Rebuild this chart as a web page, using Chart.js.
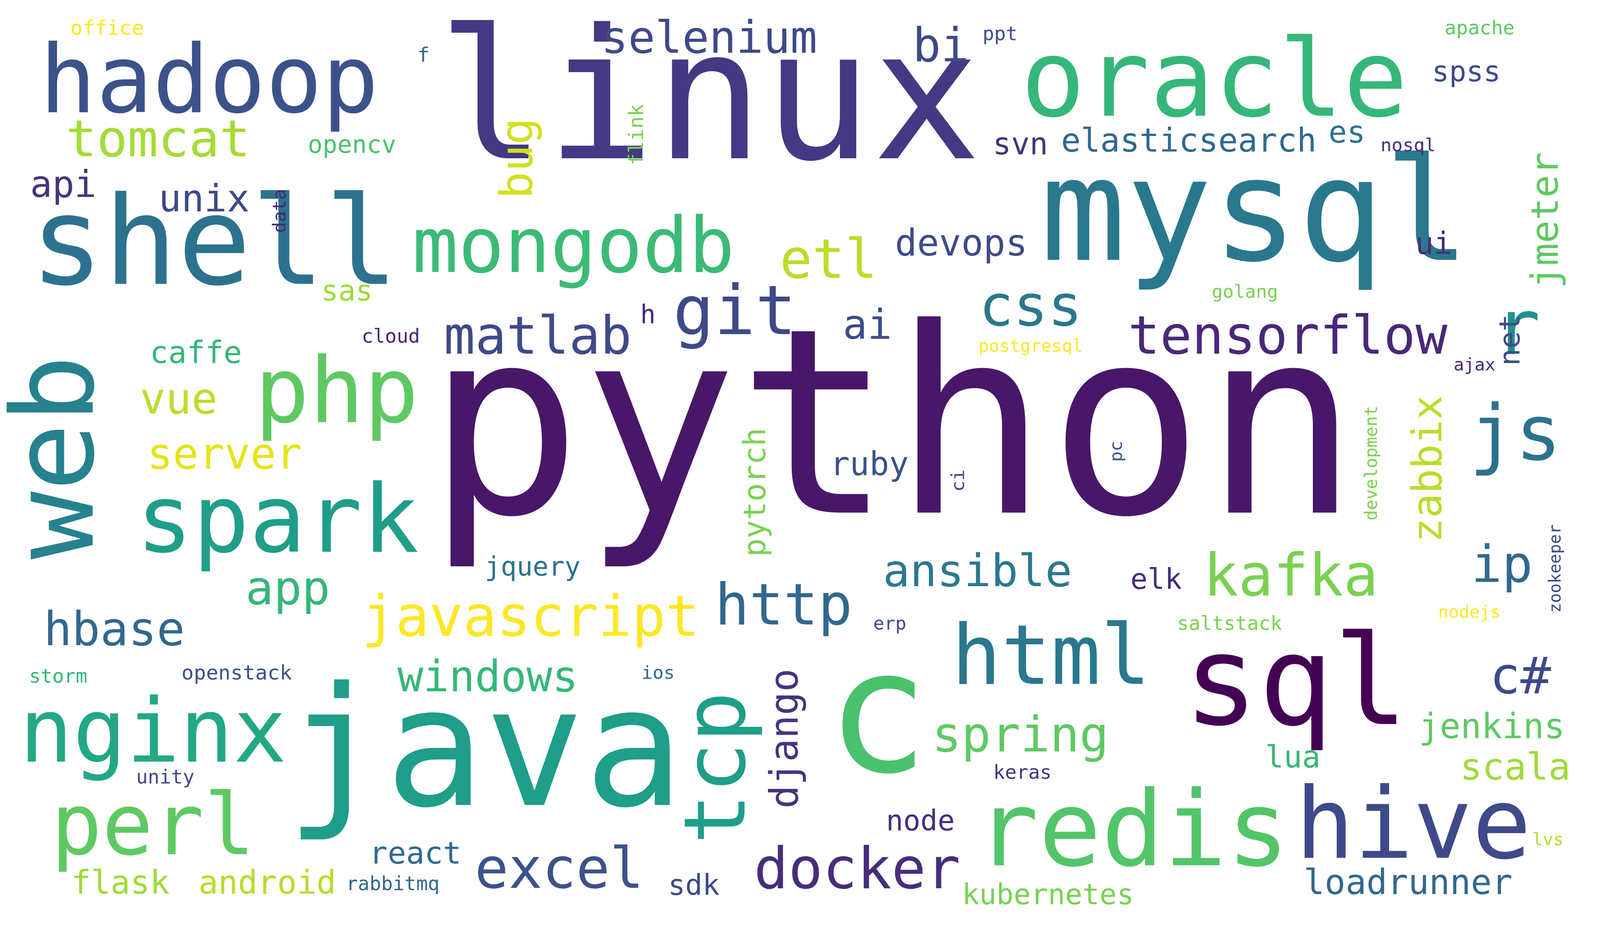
<!DOCTYPE html>
<html>
<head>
<meta charset="utf-8">
<script src="https://cdn.jsdelivr.net/npm/chart.js@4/dist/chart.umd.min.js"></script>
<style>
  html, body { margin: 0; padding: 0; background: #fff; overflow: hidden; }
  #wrap { width: 100vw; height: 100vh; }
</style>
</head>
<body>
<div id="wrap"><canvas id="cloud"></canvas></div>
<script>
// Mots du nuage (centre x, centre y dans un repère 1568 x 795, taille relative)
const words = ['python','linux','java','c','mysql','sql','shell','web','hadoop','oracle',
  'redis','php','spark','mongodb','nginx','perl','html','hive','tcp','js',
  'r','docker','excel','kafka','javascript','http','css','git','ansible','tensorflow',
  'matlab','etl','bug','selenium','bi','tomcat','unix','api','opencv','svn',
  'elasticsearch','es','nosql','spss','apache','ppt','office','f','flink','data',
  'devops','jmeter','ui','sas','golang','cloud','postgresql','net','h','ai',
  'caffe','vue','server','ajax','development','zabbix','ruby','pytorch','pc','ci',
  'zookeeper','ip','app','jquery','elk','hbase','erp','saltstack','nodejs','c#',
  'windows','django','spring','storm','openstack','ios','jenkins','scala','lua','keras',
  'unity','node','react','lvs','flask','android','rabbitmq','sdk','kubernetes','loadrunner'];
const xs = [875,695,475,860,1230,1270,210,62,205,1190,
  1110,330,272,562,150,150,1030,1385,708,1485,
  1487,840,548,1265,520,768,1010,720,958,1262,
  527,812,510,695,922,155,200,62,345,1000,
  1165,1320,1380,1437,1450,980,105,415,625,275,
  942,1517,1405,340,1220,383,1010,1482,635,850,
  192,175,220,1445,1345,1402,852,742,1095,940,
  1525,1472,282,522,1133,112,872,1205,1440,1490,
  478,772,1000,57,232,645,1462,1485,1267,1002,
  162,902,407,1517,118,262,385,680,1027,1380];
const ys = [380,95,650,620,190,590,215,390,75,75,
  715,340,450,215,630,710,565,710,655,375,
  285,745,745,495,530,520,265,270,490,290,
  290,225,135,35,42,122,172,160,125,125,
  122,115,125,63,25,30,25,48,115,180,
  210,188,210,250,250,288,296,290,270,280,
  303,343,390,312,395,400,398,420,385,410,
  485,485,505,485,496,540,533,533,523,580,
  580,630,630,578,575,575,622,657,648,660,
  664,702,730,717,755,755,755,757,765,755];
const sizes = [253,177,162,167,140,122,120,111,92,105,
  102,89,92,75,87,83,81,96,83,75,
  75,56,55,57,55,56,56,67,44,52,
  51,53,44,44,46,50,37,36,24,30,
  32,30,18,28,19,19,20,20,20,18,
  36,37,30,28,18,19,17,28,25,40,
  30,42,42,17,17,40,32,30,17,18,
  16,50,46,26,28,46,18,19,17,50,
  42,38,48,19,20,18,34,36,30,19,
  19,28,30,17,32,32,19,28,28,34];
const vertical = ['web','tcp','bug','flink','data','jmeter','net','development','zabbix',
  'pytorch','pc','ci','zookeeper','django'];
const colors = ['#481769','#443983','#1f9e89','#4ac16d','#2a788e','#440154','#2c728e','#26828e','#3b528b','#35b779',
  '#52c569','#5ec962','#1f9e89','#3bbb75','#22a884','#5ec962','#2a788e','#3e4a89','#1f9e89','#2c728e',
  '#21918c','#472d7b','#3b528b','#7ad151','#fde725','#31688e','#2a788e','#3e4989','#2a788e','#482878',
  '#3e4a89','#b8de29','#d0e11c','#3e4989','#3e4a89','#a5db36','#3e4989','#46337e','#4ac16d','#46337e',
  '#31688e','#2c728e','#472d7b','#3e4989','#5ec962','#3b528b','#fde725','#31688e','#7ad151','#482878',
  '#3e4a89','#5ec962','#472d7b','#a0da39','#7ad151','#482878','#fde725','#3e4989','#482878','#3e4a89',
  '#35b779','#b8de29','#e5e419','#482878','#7ad151','#b8de29','#3b528b','#7ad151','#3b528b','#3e4989',
  '#3e4989','#31688e','#35b779','#2c728e','#472d7b','#31688e','#3e4989','#7ad151','#fde725','#3e4989',
  '#35b779','#46337e','#5ec962','#35b779','#3b528b','#31688e','#5ec962','#a0da39','#35b779','#46337e',
  '#3e4989','#472d7b','#31688e','#b5de2b','#a0da39','#b5de2b','#31688e','#3e4989','#7ad151','#31688e'];

// Plugin pour dessiner les mots aux positions des points
const wordPlugin = {
  id: 'words',
  afterDatasetsDraw(chart) {
    const ctx = chart.ctx;
    const xScale = chart.scales.x;
    const yScale = chart.scales.y;
    const unit = (xScale.getPixelForValue(1568) - xScale.getPixelForValue(0)) / 1568;
    ctx.save();
    ctx.textAlign = 'center';
    ctx.textBaseline = 'middle';
    words.forEach(function(w, i) {
      const px = xScale.getPixelForValue(xs[i]);
      const py = yScale.getPixelForValue(ys[i]);
      ctx.save();
      ctx.translate(px, py);
      if (vertical.indexOf(w) > -1) ctx.rotate(-Math.PI / 2);
      ctx.font = (sizes[i] * unit) + 'px "DejaVu Sans Mono"';
      ctx.fillStyle = colors[i];
      ctx.fillText(w, 0, 0);
      ctx.restore();
    });
    ctx.restore();
  }
};

new Chart(document.getElementById('cloud'), {
  type: 'scatter',
  data: {
    datasets: [{
      data: words.map(function(w, i) { return { x: xs[i], y: ys[i] }; }),
      pointRadius: 0
    }]
  },
  options: {
    responsive: true,
    maintainAspectRatio: false,
    animation: false,
    layout: { padding: 0 },
    plugins: { legend: { display: false }, tooltip: { enabled: false } },
    scales: {
      x: { type: 'linear', min: 0, max: 1568, display: false },
      y: { type: 'linear', min: 0, max: 795, reverse: true, display: false }
    }
  },
  plugins: [wordPlugin]
});
</script>
</body>
</html>
